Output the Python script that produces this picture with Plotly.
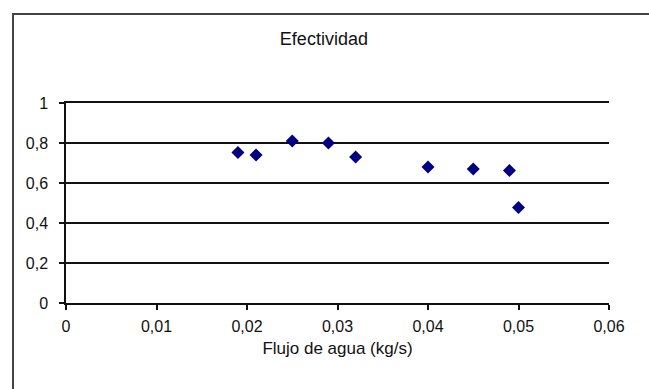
import plotly.graph_objects as go

flujo = [0.019, 0.021, 0.025, 0.029, 0.032, 0.040, 0.045, 0.049, 0.050]
efectividad = [0.753, 0.74, 0.81, 0.80, 0.73, 0.68, 0.67, 0.663, 0.477]
x_ticks = [0, 0.01, 0.02, 0.03, 0.04, 0.05, 0.06]
y_ticks = [0, 0.2, 0.4, 0.6, 0.8, 1]

W, H = 649, 389
L, R, T, B = 66, 40, 103, 86
pw, ph = W - L - R, H - T - B

def px(xp):
    return (xp - L) / pw

def py(yp):
    return (H - B - yp) / ph

fig = go.Figure()
fig.add_trace(go.Scatter(
    x=flujo, y=efectividad, mode="markers",
    marker=dict(symbol="diamond", size=10, color="#000080"),
    showlegend=False,
))

FONT = "Liberation Sans, Arial, sans-serif"

fig.update_layout(
    width=W, height=H,
    margin=dict(l=L, r=R, t=T, b=B),
    paper_bgcolor="white", plot_bgcolor="white",
    separators=",.",
    font=dict(family=FONT, size=15, color="#111"),
    title=dict(text="Efectividad", x=px(337), xanchor="center",
               y=1 - 39 / H, yanchor="middle", font=dict(size=18)),
    xaxis=dict(range=[0, 0.06], tickvals=x_ticks, showgrid=False, zeroline=False,
               showline=True, mirror=True, linecolor="#111", linewidth=1.5,
               ticks="outside", ticklen=5, tickcolor="#111", tickwidth=1.5,
               tickfont=dict(size=16), ticklabelstandoff=3,
               title=dict(text="Flujo de agua (kg/s)", standoff=8, font=dict(size=17))),
    yaxis=dict(range=[0, 1], tickvals=y_ticks, showgrid=True, gridcolor="#111",
               gridwidth=1.5, zeroline=False,
               showline=True, linecolor="#111", linewidth=1.5,
               ticks="outside", ticklen=5, tickcolor="#111", tickwidth=1.5,
               tickfont=dict(size=16), ticklabelstandoff=8),
)

# outer chart frame (cropped at right and bottom in the reference)
frame_path = "M {a},{b} L {c},{d} L {e},{f}".format(
    a=px(13), b=py(389), c=px(13), d=py(14), e=px(649), f=py(14))
fig.add_shape(type="path", xref="paper", yref="paper", path=frame_path,
              line=dict(color="#444", width=2))

fig.write_html("out.html")
